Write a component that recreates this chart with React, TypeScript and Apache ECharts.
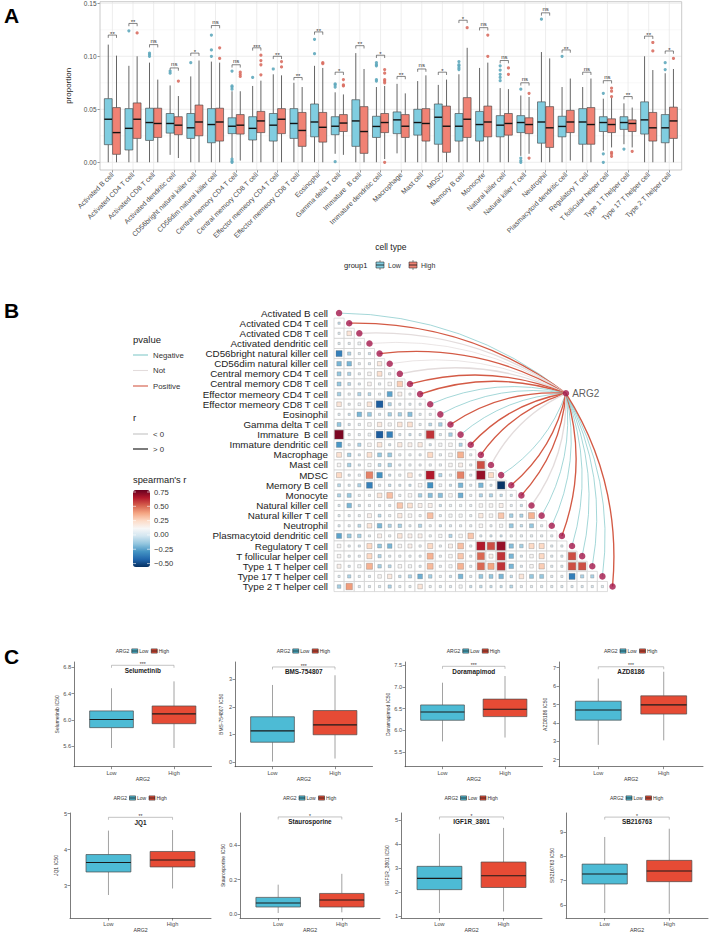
import React, { useEffect, useRef } from 'react';
import * as echarts from 'echarts';

const FONT = '"Liberation Sans", Arial, Helvetica, sans-serif';

// ---------- Panel A: immune cell proportions by ARG2 group ----------
const cellTypes = [
  'Activated B cell', 'Activated CD4 T cell', 'Activated CD8 T cell', 'Activated dendritic cell',
  'CD56bright natural killer cell', 'CD56dim natural killer cell', 'Central memory CD4 T cell',
  'Central memory CD8 T cell', 'Effector memeory CD4 T cell', 'Effector memeory CD8 T cell',
  'Eosinophil', 'Gamma delta T cell', 'Immature  B cell', 'Immature dendritic cell', 'Macrophage',
  'Mast cell', 'MDSC', 'Memory B cell', 'Monocyte', 'Natural killer cell', 'Natural killer T cell',
  'Neutrophil', 'Plasmacytoid dendritic cell', 'Regulatory T cell', 'T follicular helper cell',
  'Type 1 T helper cell', 'Type 17 T helper cell', 'Type 2 T helper cell',
];
const groupNames = ['Low', 'High'];

// [lower whisker, Q1, median, Q3, upper whisker]
const lowBox = [
  [0, 0.0166, 0.0406, 0.06, 0.111], [0, 0.0116, 0.032, 0.0506, 0.091], [0, 0.0206, 0.0375, 0.051, 0.094],
  [0.007, 0.0275, 0.0366, 0.046, 0.0725], [0, 0.0225, 0.0325, 0.046, 0.081], [0, 0.0184, 0.0356, 0.0506, 0.095],
  [0.004, 0.027, 0.034, 0.042, 0.067], [0, 0.021, 0.032, 0.043, 0.072], [0, 0.02, 0.035, 0.046, 0.083],
  [0, 0.0225, 0.0366, 0.0506, 0.075], [0, 0.024, 0.038, 0.055, 0.091], [0.008, 0.026, 0.034, 0.043, 0.066],
  [0, 0.015, 0.039, 0.059, 0.103], [0, 0.0234, 0.0338, 0.0434, 0.071], [0.0084, 0.027, 0.04, 0.0475, 0.074],
  [0, 0.0256, 0.0375, 0.05, 0.0766], [0, 0.017, 0.0425, 0.055, 0.073], [0, 0.02, 0.034, 0.046, 0.083],
  [0, 0.02, 0.0356, 0.048, 0.089], [0, 0.024, 0.035, 0.044, 0.07], [0.006, 0.028, 0.0375, 0.044, 0.063],
  [0, 0.018, 0.038, 0.057, 0.104], [0, 0.024, 0.0338, 0.0434, 0.071], [0, 0.017, 0.038, 0.0506, 0.071],
  [0.011, 0.029, 0.0375, 0.043, 0.06], [0.017, 0.031, 0.0375, 0.043, 0.0556], [0, 0.0266, 0.04, 0.057, 0.1],
  [0, 0.0184, 0.0325, 0.045, 0.084],
];
const highBox = [
  [0, 0.0075, 0.028, 0.0516, 0.1006], [0, 0.0225, 0.0406, 0.056, 0.1], [0, 0.0234, 0.0366, 0.051, 0.078],
  [0.004, 0.026, 0.035, 0.043, 0.0625], [0, 0.025, 0.038, 0.054, 0.096], [0, 0.02, 0.038, 0.051, 0.094],
  [0.0016, 0.0266, 0.035, 0.045, 0.067], [0, 0.028, 0.039, 0.048, 0.077], [0, 0.027, 0.0406, 0.0506, 0.082],
  [0, 0.015, 0.03, 0.047, 0.071], [0, 0.019, 0.033, 0.047, 0.089], [0.007, 0.029, 0.037, 0.045, 0.064],
  [0, 0.0084, 0.029, 0.0525, 0.088], [0.003, 0.028, 0.0375, 0.046, 0.072], [0, 0.0234, 0.034, 0.045, 0.065],
  [0, 0.02, 0.0366, 0.0506, 0.082], [0, 0.0094, 0.034, 0.053, 0.078], [0, 0.0234, 0.0406, 0.061, 0.108],
  [0, 0.024, 0.038, 0.053, 0.094], [0, 0.0256, 0.0366, 0.046, 0.069], [0.008, 0.027, 0.0356, 0.042, 0.0616],
  [0, 0.014, 0.0325, 0.0525, 0.098], [0.0016, 0.028, 0.038, 0.049, 0.079], [0, 0.017, 0.0356, 0.0516, 0.079],
  [0.014, 0.028, 0.0356, 0.041, 0.061], [0.014, 0.029, 0.0366, 0.04, 0.0516], [0, 0.02, 0.0325, 0.047, 0.087],
  [0, 0.0225, 0.039, 0.052, 0.088],
];
const lowOutliers = [
  [], [0.124], [0.1, 0.1016, 0.103], [0.084, 0.086], [0.094], [0.1, 0.106, 0.12],
  [0.069, 0.071, 0.072, 0.086, 0.003, 0.001, 0], [0.08], [0.088], [], [0.1025, 0.116],
  [0.071, 0.073, 0.074, 0.0006], [], [0.0766, 0.078, 0.091, 0.092, 0.094], [], [], [],
  [0.0875, 0.089, 0.091, 0.092, 0.095], [], [0.077, 0.08, 0.083, 0.087, 0.091], [0.069, 0.004, 0.0016, 0],
  [0.135], [0.1], [], [0.065, 0.008, 0], [0.0125], [], [0.0875, 0.094],
];
const highOutliers = [
  [], [0.122], [], [0.0766], [], [0.098, 0.108], [0.081, 0.083, 0.085], [0.0825, 0.092, 0.096, 0.101],
  [0.09, 0.095], [], [0.093, 0.094], [0.072, 0.073, 0.078], [], [0.075, 0.0766, 0.078, 0.084, 0.0875, 0],
  [], [], [], [0.127], [0.1, 0.12], [0.083, 0.089], [0.065, 0.004], [], [], [],
  [0.062, 0.067, 0.07, 0.0094, 0.008, 0.0056], [0.0103], [0.105, 0.113], [0.098],
];
const sigLabels = [
  '**', '**', 'ns', 'ns', '*', 'ns', 'ns', '***', '**', '**', '**', '*', '**', '*',
  '**', 'ns', '*', '*', 'ns', 'ns', 'ns', 'ns', '**', 'ns', 'ns', '**', '**', '*',
];
const sigHeights = [
  0.12, 0.131, 0.111, 0.089, 0.103, 0.129, 0.092, 0.108, 0.1, 0.08, 0.123, 0.085, 0.11, 0.101,
  0.081, 0.088, 0.085, 0.134, 0.127, 0.096, 0.075, 0.141, 0.106, 0.085, 0.077, 0.062, 0.119, 0.105,
];
const propTicks = [0, 0.05, 0.1, 0.15];
const propMinor = [0.025, 0.075, 0.125];

// ---------- Panel B: cell-type correlation matrix and ARG2 links ----------
const corrLower = [
  [],
  [-0.05],
  [0.03, 0.2],
  [0.02, 0.03, 0.08],
  [-0.35, -0.1, 0.02, -0.03],
  [-0.2, -0.2, 0.03, 0.01, 0.18],
  [-0.15, -0.1, 0.04, 0.12, 0.22, 0.05],
  [-0.15, -0.08, 0.01, 0.13, 0.05, 0.12, 0.28],
  [-0.12, 0.05, -0.1, -0.08, 0.04, -0.25, 0.15, 0.04],
  [0.2, 0.04, 0.07, 0.2, -0.45, -0.1, 0.02, 0.02, 0.01],
  [0.03, -0.03, -0.2, -0.15, -0.02, -0.12, -0.12, -0.18, 0.02, 0.02],
  [-0.15, -0.02, 0.05, 0.12, 0.18, 0.1, 0.2, 0.22, 0.04, -0.08, -0.12],
  [0.75, 0.04, 0.04, 0.08, -0.45, -0.35, -0.02, -0.05, -0.02, 0.6, 0.01, -0.12],
  [-0.28, 0.03, -0.1, 0.12, 0.2, -0.02, 0.18, 0.15, 0.18, -0.02, 0.1, 0.12, -0.1],
  [0.22, -0.12, -0.02, 0.22, -0.15, -0.15, 0.05, 0.05, 0.02, 0.25, 0.05, 0.12, 0.35, 0.04],
  [0.12, -0.12, -0.02, 0.1, -0.08, -0.12, 0.01, 0.05, 0.04, 0.05, 0.05, 0.12, 0.15, 0.03, 0.55],
  [0.25, 0.01, 0.05, 0.45, -0.3, -0.05, 0.05, 0.2, 0.02, 0.65, -0.1, 0.05, 0.45, 0.01, 0.7, 0.25],
  [-0.08, -0.01, -0.1, -0.35, 0.05, -0.06, -0.03, -0.05, 0.12, -0.3, 0.07, -0.05, -0.2, 0.01, -0.2, -0.02, -0.55],
  [-0.1, -0.15, 0.04, 0.04, 0.2, 0.32, 0.05, 0.12, -0.12, -0.18, -0.18, 0.12, -0.22, 0.04, -0.1, -0.1, -0.06, -0.02],
  [0.01, -0.2, -0.05, 0.03, 0.01, 0.01, 0.3, 0.22, 0.15, 0.15, -0.05, 0.05, 0.05, 0.04, 0.12, 0.12, 0.15, 0.03, -0.05],
  [0.02, 0.01, 0.04, 0.15, -0.08, 0.05, 0.18, 0.12, 0.05, 0.32, 0.01, 0.1, 0.1, 0.04, 0.18, 0.12, 0.3, -0.12, -0.1, 0.35],
  [0.01, 0.03, -0.08, 0.2, -0.2, -0.1, -0.12, 0.01, -0.1, 0.04, -0.05, 0.01, 0.03, 0.04, 0.12, 0.04, 0.1, -0.15, -0.06, -0.15, 0.03],
  [-0.25, -0.15, -0.12, 0.02, 0.15, 0.05, 0.2, 0.15, 0.15, 0.05, 0.1, -0.1, 0.12, 0.3, 0.01, -0.02, -0.03, 0.05, 0.05, 0.05, 0.04, 0.03],
  [0.12, 0.03, -0.01, 0.25, -0.15, -0.2, 0.12, 0.15, 0.05, 0.25, 0.04, 0.15, 0.32, 0.04, 0.65, 0.55, 0.7, -0.18, -0.12, 0.25, 0.25, 0.03, 0.03],
  [0.12, 0.03, 0.04, 0.25, -0.1, 0.02, 0.05, 0.05, 0.02, 0.35, 0.04, 0.12, 0.3, 0.03, 0.5, 0.15, 0.6, -0.2, 0.01, 0.12, 0.25, 0.03, 0.01, 0.55],
  [0.15, 0.01, 0.1, 0.35, -0.12, -0.08, 0.12, 0.1, 0.01, 0.33, 0.04, 0.1, 0.35, 0.03, 0.5, 0.38, 0.6, -0.2, 0.01, 0.12, 0.28, 0.03, 0.01, 0.55, 0.55],
  [0.03, -0.1, 0.02, 0.01, 0.12, 0.18, -0.06, -0.1, -0.22, -0.12, 0.03, -0.05, -0.2, 0.01, -0.15, -0.15, -0.2, -0.06, 0.2, -0.15, -0.15, 0.03, 0.03, -0.35, -0.1, -0.1],
  [-0.12, 0.4, 0.01, 0.01, 0.01, -0.1, 0.03, 0.03, 0.2, 0.04, 0.01, 0.01, 0.1, -0.05, -0.06, -0.05, -0.05, -0.08, 0.04, 0.04, 0.03, 0.03, 0.02, 0.01, 0.01, 0.01, 0.02],
];
const hubName = 'ARG2';
const hubPos = [22.4, 7.92];
const hubR = [
  -0.12, 0.2, 0.05, -0.04, 0.22, -0.03, 0.04, 0.25, 0.2, -0.18, -0.15, 0.21, -0.16, 0.24,
  0.19, 0.03, -0.14, 0.2, 0.22, 0.05, -0.1, -0.15, 0.23, -0.14, -0.13, -0.12, -0.15, 0.2,
];
const hubClass = [
  'Negative', 'Positive', 'Not', 'Not', 'Positive', 'Not', 'Not', 'Positive', 'Positive', 'Negative',
  'Negative', 'Positive', 'Negative', 'Positive', 'Positive', 'Not', 'Negative', 'Positive', 'Positive', 'Not',
  'Negative', 'Negative', 'Positive', 'Negative', 'Negative', 'Negative', 'Negative', 'Positive',
];
const pClasses = ['Negative', 'Not', 'Positive'];
const corrLegendTicks = [0.75, 0.5, 0.25, 0, -0.25, -0.5];
const corrMin = -0.56;
const corrMax = 0.785;

// ---------- Panel C: drug sensitivity (IC50) by ARG2 group ----------
const drugs = ['Selumetinib', 'BMS-754807', 'Doramapimod', 'AZD8186', 'JQ1', 'Staurosporine', 'IGF1R_3801', 'SB216763'];
const drugLow = [
  [5.57, 5.88, 6.005, 6.135, 6.48], [0.02, 0.72, 1.13, 1.64, 2.79], [5.74, 6.23, 6.42, 6.585, 7.1],
  [2.81, 4.15, 4.7, 5.18, 6.41], [2.74, 3.38, 3.645, 3.865, 4.53], [0.006, 0.041, 0.064, 0.097, 0.171],
  [1.125, 2.1, 2.57, 3.07, 4.43], [5.66, 6.86, 7.27, 7.68, 8.8],
];
const drugHigh = [
  [5.57, 5.94, 6.09, 6.21, 6.585], [0.13, 0.99, 1.346, 1.865, 3.14], [5.83, 6.315, 6.485, 6.72, 7.255],
  [3.05, 4.48, 4.98, 5.47, 6.78], [2.92, 3.52, 3.715, 3.95, 4.545], [0.01, 0.041, 0.082, 0.12, 0.234],
  [1.19, 2.19, 2.68, 3.25, 4.67], [5.63, 6.955, 7.395, 7.835, 9.14],
];
const drugSig = ['***', '***', '***', '***', '**', '*', '*', '*'];
const drugBracket = [6.83, 3.44, 7.48, 7.05, 4.9, 0.565, 5.125, 9.62];
const drugRange = [
  [5.285, 6.88], [-0.165, 3.62], [5.154, 7.58], [1.62, 7.31],
  [2.1, 5.02], [-0.023, 0.588], [0.92, 5.29], [5.455, 9.79],
];
const drugTicks = [
  [5.6, 6.0, 6.4, 6.8], [0, 1, 2, 3], [5.5, 6.0, 6.5, 7.0, 7.5], [2, 3, 4, 5, 6, 7],
  [3, 4, 5], [0, 0.2, 0.4], [1, 2, 3, 4, 5], [6, 7, 8, 9],
];
const drugDecimals = [1, 0, 1, 0, 0, 1, 0, 0];

// ---------- styling ----------
const A_LOW = '#80CDE0';
const A_HIGH = '#F08274';
const A_LOW_PT = '#5FA9BD';
const A_HIGH_PT = '#D96E62';
const C_LOW = '#4DBBD5';
const C_HIGH = '#E64B35';
const LINK_COLORS: Record<string, string> = { Negative: '#86CACB', Not: '#E3DCDC', Positive: '#D35A45' };
const RDBU = ['#053061', '#2166AC', '#4393C3', '#92C5DE', '#D1E5F0', '#F7F7F7', '#FDDBC7', '#F4A582', '#D6604D', '#B2182B', '#67001F'];
const NODE_COLOR = '#A3174A';

const cLayout = [
  [74, 662, 137.5, 104.7], [235, 662, 137.5, 104.7], [405, 662, 137.5, 104.7], [559, 662, 144, 104.7],
  [70, 813, 141, 105], [240, 813, 140, 105], [401, 813, 141, 105], [566, 813, 142, 105],
];

function txt(x: number, y: number, text: string, size: number, o: any = {}) {
  return {
    type: 'text', x, y, silent: true, z: 10,
    style: {
      text, fontSize: size, fontFamily: FONT, fill: o.fill || '#333',
      align: o.align || 'left', verticalAlign: o.va || 'middle', fontWeight: o.weight || 'normal',
    },
  };
}

function boxShapes(api: any, xc: number, halfW: number, s: number[], st: any) {
  const tl = api.coord([xc - halfW, s[3]]);
  const br = api.coord([xc + halfW, s[1]]);
  const pMax = api.coord([xc, s[4]]);
  const pMin = api.coord([xc, s[0]]);
  const mL = api.coord([xc - halfW, s[2]]);
  const mR = api.coord([xc + halfW, s[2]]);
  return [
    { type: 'line', shape: { x1: pMax[0], y1: pMax[1], x2: pMax[0], y2: tl[1] }, style: { stroke: st.whisker, lineWidth: st.wlw } },
    { type: 'line', shape: { x1: pMin[0], y1: pMin[1], x2: pMin[0], y2: br[1] }, style: { stroke: st.whisker, lineWidth: st.wlw } },
    { type: 'rect', shape: { x: tl[0], y: tl[1], width: br[0] - tl[0], height: br[1] - tl[1] }, style: { fill: st.fill, stroke: st.stroke, lineWidth: st.lw } },
    { type: 'line', shape: { x1: mL[0], y1: mL[1], x2: mR[0], y2: mR[1] }, style: { stroke: st.median, lineWidth: st.mlw } },
  ];
}

function keyGlyph(x: number, y: number, w: number, h: number, fill: string) {
  return [
    { type: 'line', silent: true, shape: { x1: x + w / 2, y1: y - h / 2 - 2, x2: x + w / 2, y2: y - h / 2 }, style: { stroke: '#444', lineWidth: 0.6 } },
    { type: 'line', silent: true, shape: { x1: x + w / 2, y1: y + h / 2, x2: x + w / 2, y2: y + h / 2 + 2 }, style: { stroke: '#444', lineWidth: 0.6 } },
    { type: 'rect', silent: true, shape: { x, y: y - h / 2, width: w, height: h }, style: { fill, stroke: '#333', lineWidth: 0.6 } },
    { type: 'line', silent: true, shape: { x1: x, y1: y, x2: x + w, y2: y }, style: { stroke: '#111', lineWidth: 0.8 } },
  ];
}

function buildOption() {
  const grid: any[] = [];
  const xAxis: any[] = [];
  const yAxis: any[] = [];
  const series: any[] = [];
  const elements: any[] = [];

  // ===== Panel A =====
  const catIdx = cellTypes.map((_, i) => i + 1);
  grid.push({ left: 100, top: 1.7, width: 581.7, height: 168.3, outerBoundsMode: 'none' });
  xAxis.push({
    gridIndex: 0, type: 'value', min: 0.4, max: 28.6,
    axisLine: { show: false, onZero: false },
    axisTick: { show: true, customValues: catIdx, length: 2.5, lineStyle: { color: '#555', width: 0.6 } },
    axisLabel: {
      customValues: catIdx, formatter: (v: number) => cellTypes[Math.round(v) - 1],
      rotate: 45, fontSize: 7, color: '#4D4D4D', margin: 3.5, fontFamily: FONT,
    },
    splitLine: { show: false },
    name: 'cell type', nameLocation: 'middle', nameGap: 67,
    nameTextStyle: { fontSize: 8.5, color: '#1A1A1A', fontFamily: FONT },
  });
  yAxis.push({
    gridIndex: 0, type: 'value', min: -0.0073, max: 0.1515,
    axisLine: { show: false },
    axisTick: { show: true, customValues: propTicks, length: 2.5, lineStyle: { color: '#555', width: 0.6 } },
    axisLabel: { customValues: propTicks, formatter: (v: number) => v.toFixed(2), fontSize: 6.5, color: '#4D4D4D', margin: 3.5, fontFamily: FONT },
    splitLine: { show: false },
    name: 'proportion', nameLocation: 'middle', nameGap: 14, nameRotate: 90,
    nameTextStyle: { fontSize: 8, color: '#1A1A1A', fontFamily: FONT },
  });

  // panel background: grid lines and border
  series.push({
    type: 'custom', xAxisIndex: 0, yAxisIndex: 0, z: 1, silent: true,
    data: [[1, 0]],
    renderItem: (params: any, api: any) => {
      const cs = params.coordSys;
      const ch: any[] = [];
      propMinor.forEach((v) => {
        const y = api.coord([1, v])[1];
        ch.push({ type: 'line', shape: { x1: cs.x, y1: y, x2: cs.x + cs.width, y2: y }, style: { stroke: '#F3F3F3', lineWidth: 0.5 } });
      });
      propTicks.forEach((v) => {
        const y = api.coord([1, v])[1];
        ch.push({ type: 'line', shape: { x1: cs.x, y1: y, x2: cs.x + cs.width, y2: y }, style: { stroke: '#E8E8E8', lineWidth: 0.8 } });
      });
      catIdx.forEach((i) => {
        const x = api.coord([i, 0])[0];
        ch.push({ type: 'line', shape: { x1: x, y1: cs.y, x2: x, y2: cs.y + cs.height }, style: { stroke: '#E8E8E8', lineWidth: 0.8 } });
      });
      ch.push({ type: 'rect', shape: { x: cs.x, y: cs.y, width: cs.width, height: cs.height }, style: { fill: 'none', stroke: '#BDBDBD', lineWidth: 0.8 } });
      return { type: 'group', children: ch };
    },
  });

  const dodge = 0.2;
  const aStyle = (fill: string) => ({ fill, stroke: '#3A3A3A', lw: 0.6, whisker: '#555', wlw: 0.9, median: '#111', mlw: 1.4 });
  [[lowBox, -dodge, A_LOW], [highBox, dodge, A_HIGH]].forEach(([stats, off, fill]: any) => {
    series.push({
      type: 'custom', xAxisIndex: 0, yAxisIndex: 0, z: 3, silent: true,
      data: stats.map((s: number[], i: number) => [i + 1, ...s]),
      encode: { x: 0, y: [1, 2, 3, 4, 5] },
      renderItem: (params: any, api: any) => ({
        type: 'group',
        children: boxShapes(api, api.value(0) + off, 0.19, [1, 2, 3, 4, 5].map((d) => api.value(d)), aStyle(fill)),
      }),
    });
  });
  [[lowOutliers, -dodge, A_LOW_PT], [highOutliers, dodge, A_HIGH_PT]].forEach(([outs, off, color]: any) => {
    series.push({
      type: 'scatter', xAxisIndex: 0, yAxisIndex: 0, z: 4, silent: true,
      symbol: 'circle', symbolSize: 3.2,
      itemStyle: { color, opacity: 0.9 },
      data: outs.flatMap((vals: number[], i: number) => vals.map((v) => [i + 1 + off, v])),
    });
  });
  // significance brackets
  series.push({
    type: 'custom', xAxisIndex: 0, yAxisIndex: 0, z: 4, silent: true,
    data: sigHeights.map((h, i) => [i + 1, h]),
    renderItem: (params: any, api: any) => {
      const x = api.value(0);
      const y = api.value(1);
      const pL = api.coord([x - dodge, y]);
      const pR = api.coord([x + dodge, y]);
      const lab = sigLabels[params.dataIndex];
      const star = lab.indexOf('*') >= 0;
      return {
        type: 'group',
        children: [
          { type: 'polyline', shape: { points: [[pL[0], pL[1] + 2.8], pL, pR, [pR[0], pR[1] + 2.8]] }, style: { stroke: '#333', lineWidth: 0.6, fill: 'none' } },
          { type: 'text', x: (pL[0] + pR[0]) / 2, y: pL[1] - (star ? -1.8 : 0.6), style: { text: lab, fontSize: 6, fontFamily: FONT, fill: '#333', align: 'center', verticalAlign: 'bottom' } },
        ],
      };
    },
  });

  // legend for panel A
  const aLegY = 265;
  elements.push(txt(344, aLegY, 'group1', 7.5, { fill: '#1A1A1A' }));
  elements.push(...keyGlyph(376, aLegY, 8, 6, A_LOW));
  elements.push(txt(388, aLegY, groupNames[0], 7, { fill: '#333' }));
  elements.push(...keyGlyph(409, aLegY, 8, 6, A_HIGH));
  elements.push(txt(421, aLegY, groupNames[1], 7, { fill: '#333' }));

  // ===== Panel B =====
  const n = cellTypes.length;
  const rowIdx = cellTypes.map((_, i) => i);
  grid.push({ left: 334, top: 308, width: 283.6, height: 283.6, outerBoundsMode: 'none' });
  xAxis.push({ gridIndex: 1, type: 'value', min: -0.5, max: n - 0.5, show: false });
  yAxis.push({
    gridIndex: 1, type: 'value', min: -0.5, max: n - 0.5, inverse: true,
    axisLine: { show: false }, axisTick: { show: false }, splitLine: { show: false },
    axisLabel: {
      customValues: rowIdx, formatter: (v: number) => cellTypes[Math.round(v)],
      fontSize: 9.8, color: '#222', margin: 6, fontFamily: FONT,
    },
  });

  const cellSeriesIndex = series.length;
  series.push({
    type: 'custom', xAxisIndex: 1, yAxisIndex: 1, z: 2, silent: true,
    data: corrLower.flatMap((row, r) => row.map((v, c) => [c, r, v])),
    encode: { x: 0, y: 1 },
    renderItem: (params: any, api: any) => {
      const p = api.coord([api.value(0), api.value(1)]);
      const sz = api.size([1, 1]);
      const w = sz[0];
      const v = api.value(2);
      const side = Math.max(2.2, w * 0.9 * Math.sqrt(Math.abs(v) / corrMax));
      return {
        type: 'group',
        children: [
          { type: 'rect', shape: { x: p[0] - w / 2, y: p[1] - w / 2, width: w, height: w }, style: { fill: '#FFFFFF', stroke: '#CFCFCF', lineWidth: 0.7 } },
          { type: 'rect', shape: { x: p[0] - side / 2, y: p[1] - side / 2, width: side, height: side }, style: { fill: api.visual('color'), stroke: 'rgba(110,110,110,0.6)', lineWidth: 0.5 } },
        ],
      };
    },
  });

  // curved links from ARG2 to each cell type
  series.push({
    type: 'custom', xAxisIndex: 1, yAxisIndex: 1, z: 3, silent: true,
    data: hubR.map((r, k) => [k, r]),
    renderItem: (params: any, api: any) => {
      const k = api.value(0);
      const r = api.value(1);
      const a = api.coord(hubPos);
      const b = api.coord([k, k]);
      const dx = b[0] - a[0];
      const dy = b[1] - a[1];
      const L = Math.hypot(dx, dy);
      let nx = -dy / L;
      let ny = dx / L;
      if (nx - ny < 0) { nx = -nx; ny = -ny; }
      const off = 0.17 * L;
      const cx = (a[0] + b[0]) / 2 + nx * off;
      const cy = (a[1] + b[1]) / 2 + ny * off;
      return {
        type: 'bezierCurve',
        shape: { x1: a[0], y1: a[1], x2: b[0], y2: b[1], cpx1: cx, cpy1: cy },
        style: { stroke: LINK_COLORS[hubClass[params.dataIndex]], lineWidth: r > 0 ? 1.35 : 0.75, fill: 'none' },
      };
    },
  });
  series.push({
    type: 'scatter', xAxisIndex: 1, yAxisIndex: 1, z: 5, silent: true,
    symbol: 'circle', symbolSize: 6.5, itemStyle: { color: NODE_COLOR },
    data: rowIdx.map((k) => [k, k]),
  });
  series.push({
    type: 'scatter', xAxisIndex: 1, yAxisIndex: 1, z: 5, silent: true,
    symbol: 'circle', symbolSize: 6.5, itemStyle: { color: NODE_COLOR },
    data: [hubPos],
    label: { show: true, position: 'right', distance: 3, formatter: hubName, fontSize: 10, color: '#333', fontFamily: FONT },
  });

  // legend for panel B
  elements.push(txt(133, 339, 'pvalue', 9.5, { fill: '#222' }));
  pClasses.forEach((c, i) => {
    const y = 355 + i * 15.5;
    elements.push({ type: 'line', silent: true, shape: { x1: 133, y1: y, x2: 148, y2: y }, style: { stroke: LINK_COLORS[c], lineWidth: 1.1 } });
    elements.push(txt(153, y, c, 7.8, { fill: '#333' }));
  });
  elements.push(txt(133, 417, 'r', 9.5, { fill: '#222' }));
  elements.push({ type: 'line', silent: true, shape: { x1: 133, y1: 434, x2: 148, y2: 434 }, style: { stroke: '#A0A0A0', lineWidth: 0.7 } });
  elements.push(txt(153, 434, '< 0', 7.8, { fill: '#333' }));
  elements.push({ type: 'line', silent: true, shape: { x1: 133, y1: 449, x2: 148, y2: 449 }, style: { stroke: '#333', lineWidth: 1.3 } });
  elements.push(txt(153, 449, '> 0', 7.8, { fill: '#333' }));
  elements.push(txt(133, 480, "spearman's r", 9.3, { fill: '#222' }));
  const barTop = 490;
  const barH = 77;
  corrLegendTicks.forEach((v) => {
    const y = barTop + ((corrMax - v) / (corrMax - corrMin)) * barH;
    elements.push(txt(154, y, v < 0 ? '\u2212' + Math.abs(v).toFixed(2) : v.toFixed(2), 7.6, { fill: '#333' }));
    elements.push({ type: 'line', silent: true, z: 20, shape: { x1: 133, y1: y, x2: 136, y2: y }, style: { stroke: '#fff', lineWidth: 0.6 } });
    elements.push({ type: 'line', silent: true, z: 20, shape: { x1: 147, y1: y, x2: 150, y2: y }, style: { stroke: '#fff', lineWidth: 0.6 } });
  });

  // ===== Panel C =====
  drugs.forEach((drug, d) => {
    const gi = 2 + d;
    const [l, t, w, h] = cLayout[d];
    grid.push({ left: l, top: t, width: w, height: h, outerBoundsMode: 'none' });
    xAxis.push({
      gridIndex: gi, type: 'value', min: 0.4, max: 2.6,
      axisLine: { show: true, onZero: false, lineStyle: { color: '#444', width: 0.7 } },
      axisTick: { show: true, customValues: [1, 2], length: 2.5, lineStyle: { color: '#444', width: 0.6 } },
      axisLabel: { customValues: [1, 2], formatter: (v: number) => groupNames[Math.round(v) - 1], fontSize: 5.6, color: '#4D4D4D', margin: 3, fontFamily: FONT },
      splitLine: { show: false },
      name: 'ARG2', nameLocation: 'middle', nameGap: 6.2,
      nameTextStyle: { fontSize: 5.2, color: '#333', fontFamily: FONT },
    });
    yAxis.push({
      gridIndex: gi, type: 'value', min: drugRange[d][0], max: drugRange[d][1],
      axisLine: { show: true, onZero: false, lineStyle: { color: '#444', width: 0.7 } },
      axisTick: { show: true, customValues: drugTicks[d], length: 2.5, lineStyle: { color: '#444', width: 0.6 } },
      axisLabel: { customValues: drugTicks[d], formatter: (v: number) => v.toFixed(drugDecimals[d]), fontSize: 5.6, color: '#4D4D4D', margin: 3, fontFamily: FONT },
      splitLine: { show: false },
      name: drug + ' IC50', nameLocation: 'middle', nameRotate: 90, nameGap: 12,
      nameTextStyle: { fontSize: 5, color: '#333', fontFamily: FONT },
    });
    const fills = [C_LOW, C_HIGH];
    series.push({
      type: 'custom', xAxisIndex: gi, yAxisIndex: gi, z: 3, silent: true,
      data: [[1, ...drugLow[d]], [2, ...drugHigh[d]]],
      encode: { x: 0, y: [1, 2, 3, 4, 5] },
      renderItem: (params: any, api: any) => ({
        type: 'group',
        children: boxShapes(api, api.value(0), 0.35, [1, 2, 3, 4, 5].map((k) => api.value(k)), {
          fill: fills[params.dataIndex], stroke: '#4A4A4A', lw: 0.7, whisker: '#8A8A8A', wlw: 0.8, median: '#1A1A1A', mlw: 1.1,
        }),
      }),
    });
    series.push({
      type: 'custom', xAxisIndex: gi, yAxisIndex: gi, z: 4, silent: true,
      data: [[1.5, drugBracket[d]]],
      renderItem: (params: any, api: any) => {
        const y = api.value(1);
        const pL = api.coord([1, y]);
        const pR = api.coord([2, y]);
        const cx = (pL[0] + pR[0]) / 2;
        return {
          type: 'group',
          children: [
            { type: 'polyline', shape: { points: [[pL[0], pL[1] + 2.5], pL, pR, [pR[0], pR[1] + 2.5]] }, style: { stroke: '#9A9A9A', lineWidth: 0.6, fill: 'none' } },
            { type: 'text', x: cx, y: pL[1] + 1.2, style: { text: drugSig[d], fontSize: 5, fontFamily: FONT, fill: '#333', align: 'center', verticalAlign: 'bottom' } },
            { type: 'text', x: cx, y: pL[1] + 1.8, style: { text: drug, fontSize: 6.4, fontWeight: 'bold', fontFamily: FONT, fill: '#222', align: 'center', verticalAlign: 'top' } },
          ],
        };
      },
    });
    // legend above each subplot
    const ly = d < 4 ? 651 : 798;
    const x0 = l + w / 2 - 27;
    elements.push(txt(x0, ly, 'ARG2', 5, { fill: '#333' }));
    elements.push(...keyGlyph(x0 + 16, ly, 6, 4.2, C_LOW).slice(2));
    elements.push(txt(x0 + 23.5, ly, groupNames[0], 5, { fill: '#333' }));
    elements.push(...keyGlyph(x0 + 35.5, ly, 6, 4.2, C_HIGH).slice(2));
    elements.push(txt(x0 + 43, ly, groupNames[1], 5, { fill: '#333' }));
  });

  // panel letters
  elements.push(txt(4, 15, 'A', 21, { weight: 'bold', fill: '#000' }));
  elements.push(txt(4, 310, 'B', 21, { weight: 'bold', fill: '#000' }));
  elements.push(txt(4, 656, 'C', 21, { weight: 'bold', fill: '#000' }));

  return {
    animation: false,
    backgroundColor: '#FFFFFF',
    textStyle: { fontFamily: FONT },
    grid, xAxis, yAxis, series,
    visualMap: [{
      type: 'continuous', seriesIndex: cellSeriesIndex, dimension: 2,
      min: corrMin, max: corrMax, inRange: { color: RDBU },
      left: 133, top: barTop, itemWidth: 17, itemHeight: barH, padding: 0,
      calculable: false, hoverLink: false, realtime: false,
    }],
    graphic: { elements },
  };
}

export default function App() {
  const ref = useRef<HTMLDivElement>(null);
  useEffect(() => {
    document.body.style.margin = '0';
    const chart = echarts.init(ref.current as HTMLDivElement, null, { renderer: 'svg' });
    chart.setOption(buildOption() as any);
    return () => chart.dispose();
  }, []);
  return <div ref={ref} style={{ width: 709, height: 932, background: '#fff' }} />;
}
